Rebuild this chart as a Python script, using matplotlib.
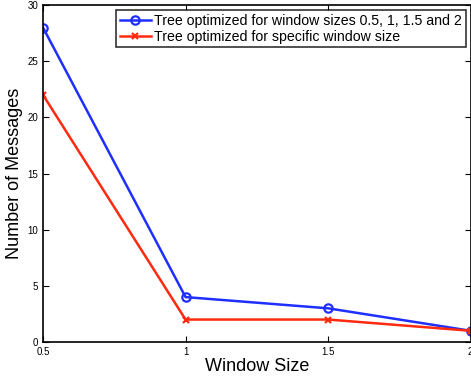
import matplotlib
matplotlib.use("Agg")
import matplotlib.pyplot as plt

plt.rcParams["font.family"] = ["Liberation Sans", "DejaVu Sans"]

# Datos
window_sizes = [0.5, 1, 1.5, 2]
msgs_multi = [28, 4, 3, 1]
msgs_specific = [22, 2, 2, 1]
label_multi = "Tree optimized for window sizes 0.5, 1, 1.5 and 2"
label_specific = "Tree optimized for specific window size"

fig = plt.figure(figsize=(4.71, 3.79), dpi=100)
ax = fig.add_axes([0.0913, 0.0976, 0.908, 0.889])

ax.plot(window_sizes, msgs_multi, color="#1f2fff", lw=1.8, marker="o",
        markersize=6, markerfacecolor="none", markeredgewidth=1.6, label=label_multi)
ax.plot(window_sizes, msgs_specific, color="#ff2a10", lw=1.8, marker="x",
        markersize=4, markeredgewidth=1.6, label=label_specific)

ax.set_xlim(0.5, 2)
ax.set_ylim(0, 30)
ax.set_xticks(window_sizes)
ax.set_xticklabels(["0.5", "1", "1.5", "2"])
ax.set_yticks([0, 5, 10, 15, 20, 25, 30])
ax.tick_params(direction="in", labelsize=7, top=True, right=True, length=4, width=0.8)
for s in ax.spines.values():
    s.set_linewidth(1.2)

ax.set_xlabel("Window Size", fontsize=13, labelpad=1)
ax.set_ylabel("Number of Messages", fontsize=13)
ax.yaxis.set_label_coords(-0.047, 0.5)

leg = ax.legend(loc="upper right", fontsize=10.2, frameon=True, fancybox=False,
                edgecolor="black", borderpad=0.25, labelspacing=0.15,
                handlelength=2.2, handletextpad=0.25, borderaxespad=0.35)
leg.get_frame().set_linewidth(1.2)

fig.savefig("out.png", dpi=100)
